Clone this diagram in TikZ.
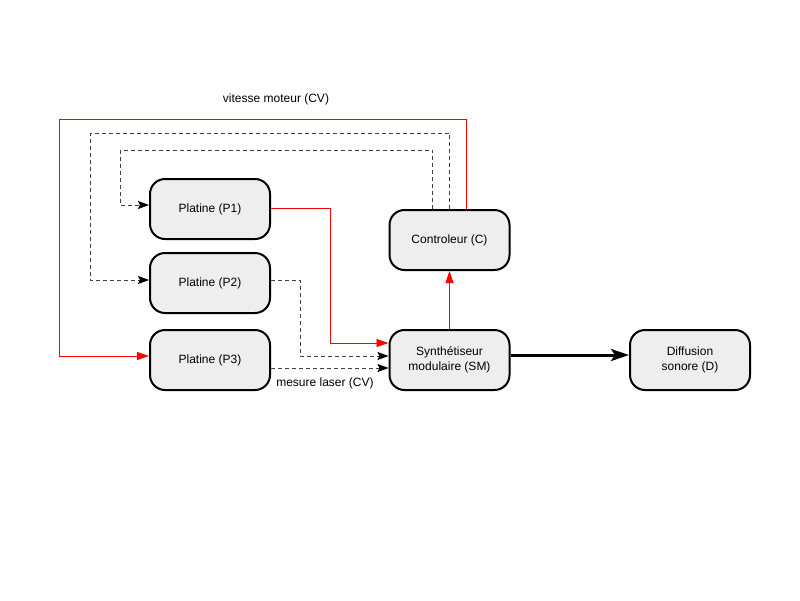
\documentclass[tikz,border=0pt]{standalone}
\usepackage{fontspec}
\setmainfont{Liberation Sans}
\usetikzlibrary{arrows.meta}
\definecolor{boxfill}{HTML}{EEEEEE}
\begin{document}
\begin{tikzpicture}[x=1pt,y=-1pt,
  blk/.style={draw=black,line width=2pt,fill=boxfill,rounded corners=15pt,
    minimum width=120pt,minimum height=60pt,inner sep=2pt,align=center,
    font=\fontsize{12}{15}\selectfont},
  redline/.style={draw=red,line width=0.8pt,-{Triangle[length=12pt,width=8pt,color=red]}},
  dashline/.style={draw=black!75,line width=0.9pt,dash pattern=on 4pt off 3pt,
    -{Stealth[length=11pt,width=8pt,inset=2pt,color=black]}},
  thickline/.style={draw=black,line width=3pt,-{Stealth[length=18pt,width=12pt,inset=4pt]}},
  lbl/.style={font=\fontsize{12}{14}\selectfont,inner sep=0pt}]
\useasboundingbox (0,0) rectangle (800,600);
\node[blk] (P1) at (210,209) {Platine (P1)};
\node[blk] (P2) at (210,283) {Platine (P2)};
\node[blk] (P3) at (210,360) {Platine (P3)};
\node[blk] (C) at (449.5,240) {Controleur (C)};
\node[blk] (SM) at (449.5,360) {Synthétiseur\\modulaire (SM)};
\node[blk] (D) at (690,360) {Diffusion\\sonore (D)};
\node[lbl] (lv) at (276,99) {vitesse moteur (CV)};
\node[lbl] (lm) at (325,383) {mesure laser (CV)};
% controller feedback to platines
\draw[redline] ([xshift=17pt]C.north) |- (59,119) |- ([yshift=4pt]P3.west);
\draw[dashline] (C.north) |- (90,133) |- ([yshift=3pt]P2.west);
\draw[dashline] ([xshift=-17pt]C.north) |- (120,150) |- ([yshift=4pt]P1.west);
% platines to synth
\draw[redline] ([yshift=1pt]P1.east) -- (330,208) |- ([yshift=17pt]SM.west);
\draw[dashline] ([yshift=3pt]P2.east) -- (300,280) |- ([yshift=4pt]SM.west);
\draw[dashline] ([yshift=-8pt]P3.east) -- ([yshift=-8pt]SM.west);
% synth to controller and diffusion
\draw[redline] (SM.north) -- (C.south);
\draw[thickline] ([yshift=5pt]SM.east) -- ([yshift=5pt]D.west);
\end{tikzpicture}
\end{document}
